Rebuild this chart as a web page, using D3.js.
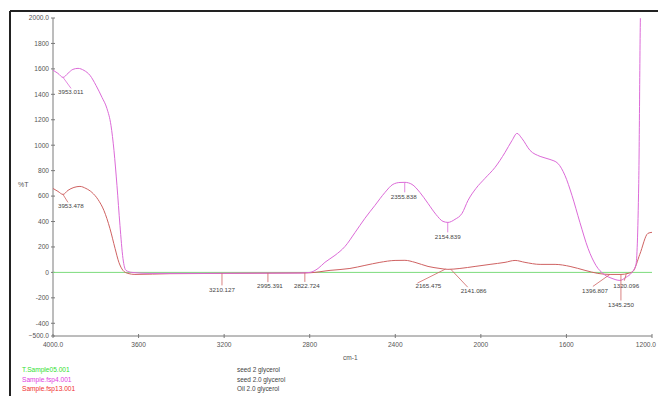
<!DOCTYPE html>
<html>
<head>
<meta charset="utf-8">
<script src="https://cdn.jsdelivr.net/npm/d3@7/dist/d3.min.js"></script>
<style>
  html, body { margin: 0; padding: 0; background: #fff; }
  svg { display: block; }
  text { font-family: "Liberation Sans", Arial, sans-serif; }
</style>
</head>
<body>
<svg id="chart" width="658" height="396"></svg>
<script>
// IR transmittance spectra (%T vs wavenumber, cm-1)
const xTicks = [4000, 3600, 3200, 2800, 2400, 2000, 1600, 1200];
const yTicks = [2000, 1800, 1600, 1400, 1200, 1000, 800, 600, 400, 200, 0, -200, -400, -500];

// background reference sample: flat line at 0 %T
const greenWn = [4000, 1200];
const greenT  = [0, 0];

// sample 2 (magenta)
const magentaWn = [4000, 3977, 3953, 3930, 3907, 3883, 3855, 3827, 3799, 3771, 3748, 3729, 3715, 3701, 3687, 3673, 3659, 3631,
  3547, 3313, 3079, 2845, 2799, 2761, 2729, 2682, 2635, 2588, 2542, 2495, 2448, 2411, 2378, 2355, 2322, 2285, 2247, 2210,
  2177, 2154, 2121, 2088, 2060, 2023, 1981, 1934, 1887, 1854, 1831, 1808, 1770, 1723, 1677, 1640, 1607, 1574, 1537, 1499,
  1462, 1424, 1387, 1350, 1322, 1294, 1275, 1262, 1253, 1240, 1200];
const magentaT = [1590, 1565, 1533, 1565, 1596, 1604, 1588, 1549, 1470, 1376, 1289, 1156, 959, 684, 370, 110, 16, 0,
  -8, -8, -6, -5, 0, 31, 79, 134, 204, 314, 425, 527, 629, 692, 707, 708, 692, 629, 542, 456,
  401, 393, 417, 464, 566, 660, 739, 825, 943, 1038, 1093, 1053, 959, 912, 888, 857, 763, 605, 393, 189,
  55, -16, -47, -63, -39, 0, 60, 700, 2100, 2300, 2300];

// sample 3 (red)
const redWn = [4000, 3977, 3953, 3930, 3902, 3874, 3846, 3818, 3790, 3762, 3734, 3710, 3692, 3673, 3650, 3617,
  3453, 3210, 2995, 2822, 2799, 2705, 2612, 2542, 2472, 2401, 2355, 2308, 2247, 2191, 2154, 2098, 2027, 1957,
  1887, 1840, 1794, 1723, 1653, 1583, 1513, 1453, 1396, 1345, 1312, 1289, 1257, 1219, 1200];
const redT = [660, 637, 613, 645, 668, 676, 660, 629, 574, 487, 346, 189, 79, 16, -8, -16,
  -10, -8, -6, -4, -3, 16, 31, 55, 79, 94, 95, 79, 47, 31, 24, 31, 47, 63,
  79, 94, 79, 63, 63, 47, 16, -8, -16, -16, -8, 8, 142, 307, 315];

// peak picks: series, wavenumber, label
const peakSeries = ["magenta", "red", "red", "red", "red", "magenta", "magenta", "red", "red", "red", "red", "red"];
const peakWn     = [3953.011, 3953.478, 3210.127, 2995.391, 2822.724, 2355.838, 2154.839, 2165.475, 2141.086, 1396.807, 1320.096, 1345.250];

// legend
const legendNames = ["T.Sample05.001", "Sample.fsp4.001", "Sample.fsp13.001"];
const legendNotes = ["seed 2 glycerol", "seed 2.0 glycerol", "Oil 2.0 glycerol"];

const W = 658, H = 396;
const plot = { left: 53, right: 652, top: 18, bottom: 336 };

const svg = d3.select("#chart");
const x = d3.scaleLinear().domain([4000, 1200]).range([plot.left, plot.right]);
const y = d3.scaleLinear().domain([-500, 2000]).range([plot.bottom, plot.top]);

// frame: heavy top and left rule
svg.append("line").attr("x1", 10).attr("x2", W).attr("y1", 11).attr("y2", 11)
  .attr("stroke", "#222").attr("stroke-width", 2);
svg.append("line").attr("x1", 10).attr("x2", 10).attr("y1", 11).attr("y2", H)
  .attr("stroke", "#222").attr("stroke-width", 2);

svg.append("defs").append("clipPath").attr("id", "plotclip")
  .append("rect").attr("x", plot.left).attr("y", plot.top)
  .attr("width", plot.right - plot.left).attr("height", plot.bottom - plot.top);

const axisColor = "#7a7a7a";
const txtColor = "#555";

// y axis
svg.append("line").attr("x1", plot.left).attr("x2", plot.left)
  .attr("y1", plot.top).attr("y2", plot.bottom).attr("stroke", axisColor);
yTicks.forEach(v => {
  svg.append("line").attr("x1", plot.left - 2).attr("x2", plot.left + 2)
    .attr("y1", y(v)).attr("y2", y(v)).attr("stroke", axisColor);
  svg.append("text").attr("x", plot.left - 4).attr("y", y(v) + 2.3)
    .attr("text-anchor", "end").attr("font-size", 6.6).attr("fill", txtColor)
    .text(v === 2000 || v === -500 ? d3.format(".1f")(v) : v);
});
svg.append("text").attr("x", 18).attr("y", 187).attr("font-size", 7).attr("fill", txtColor).text("%T");

// x axis
svg.append("line").attr("x1", plot.left).attr("x2", plot.right)
  .attr("y1", plot.bottom).attr("y2", plot.bottom).attr("stroke", axisColor);
xTicks.forEach((v, i) => {
  svg.append("line").attr("x1", x(v)).attr("x2", x(v))
    .attr("y1", plot.bottom - 2).attr("y2", plot.bottom + 2).attr("stroke", axisColor);
  const lbl = (i === 0 || i === xTicks.length - 1) ? d3.format(".1f")(v) : v;
  svg.append("text").attr("x", x(v)).attr("y", plot.bottom + 11)
    .attr("text-anchor", i === xTicks.length - 1 ? "end" : "middle")
    .attr("dx", i === xTicks.length - 1 ? 4 : 0)
    .attr("font-size", 6.6).attr("fill", txtColor).text(lbl);
});
svg.append("text").attr("x", 343).attr("y", 360).attr("font-size", 6.6).attr("fill", txtColor).text("cm-1");

// spectra
const series = {
  green:   { wn: greenWn, t: greenT, color: "#7ddc7d" },
  magenta: { wn: magentaWn, t: magentaT, color: "#dc6ad8" },
  red:     { wn: redWn, t: redT, color: "#cf6262" }
};
const line = d3.line().x(d => x(d[0])).y(d => y(d[1])).curve(d3.curveMonotoneX);
const g = svg.append("g").attr("clip-path", "url(#plotclip)");
["green", "red", "magenta"].forEach(k => {
  const s = series[k];
  g.append("path").datum(s.wn.map((w, i) => [w, s.t[i]]))
    .attr("fill", "none").attr("stroke", s.color).attr("stroke-width", 1).attr("d", line);
});

// value of a series at a wavenumber (linear between samples)
function valueAt(s, w) {
  const wn = s.wn, t = s.t;
  for (let i = 0; i < wn.length - 1; i++) {
    if (w <= wn[i] && w >= wn[i + 1]) {
      const f = (wn[i] - w) / (wn[i] - wn[i + 1]);
      return t[i] + f * (t[i + 1] - t[i]);
    }
  }
  return 0;
}

// leader-line end (dx, dy) and label anchor for each peak pick
const peakLayout = [
  { dx: 8, dy: 11, tx: -5, ty: 17, anchor: "start" },
  { dx: 5, dy: 8, tx: -5, ty: 14, anchor: "start" },
  { dx: 0, dy: 12, tx: 0, ty: 19, anchor: "middle" },
  { dx: 0, dy: 9, tx: 2, ty: 15, anchor: "middle" },
  { dx: 0, dy: 9, tx: 2, ty: 15, anchor: "middle" },
  { dx: 0, dy: 10, tx: -1, ty: 17, anchor: "middle" },
  { dx: 0, dy: 10, tx: 0, ty: 17, anchor: "middle" },
  { dx: -28, dy: 14, tx: -30, ty: 19, anchor: "start" },
  { dx: 17, dy: 18, tx: 10, ty: 24, anchor: "start" },
  { dx: -17, dy: 12, tx: -2, ty: 19, anchor: "end" },
  { dx: -2, dy: 7, tx: -13, ty: 14, anchor: "start" },
  { dx: 0, dy: 26, tx: 0, ty: 33, anchor: "middle" }
];
const ann = svg.append("g");
peakWn.forEach((w, i) => {
  const s = series[peakSeries[i]];
  const px = x(w), py = y(valueAt(s, w));
  const L = peakLayout[i];
  ann.append("line").attr("x1", px).attr("y1", py).attr("x2", px + L.dx).attr("y2", py + L.dy)
    .attr("stroke", s.color).attr("stroke-width", 0.8);
  ann.append("text").attr("x", px + L.tx).attr("y", py + L.ty)
    .attr("text-anchor", L.anchor).attr("font-size", 6.2).attr("fill", "#444")
    .text(d3.format(".3f")(w));
});

// legend
const legendColors = ["#33e033", "#e040e0", "#f03030"];
legendNames.forEach((n, i) => {
  svg.append("text").attr("x", 22).attr("y", 372 + i * 9.5).attr("font-size", 6.6)
    .attr("fill", legendColors[i]).text(n);
  svg.append("text").attr("x", 237).attr("y", 372 + i * 9.5).attr("font-size", 6.4)
    .attr("fill", "#444").text(legendNotes[i]);
});
</script>
</body>
</html>
